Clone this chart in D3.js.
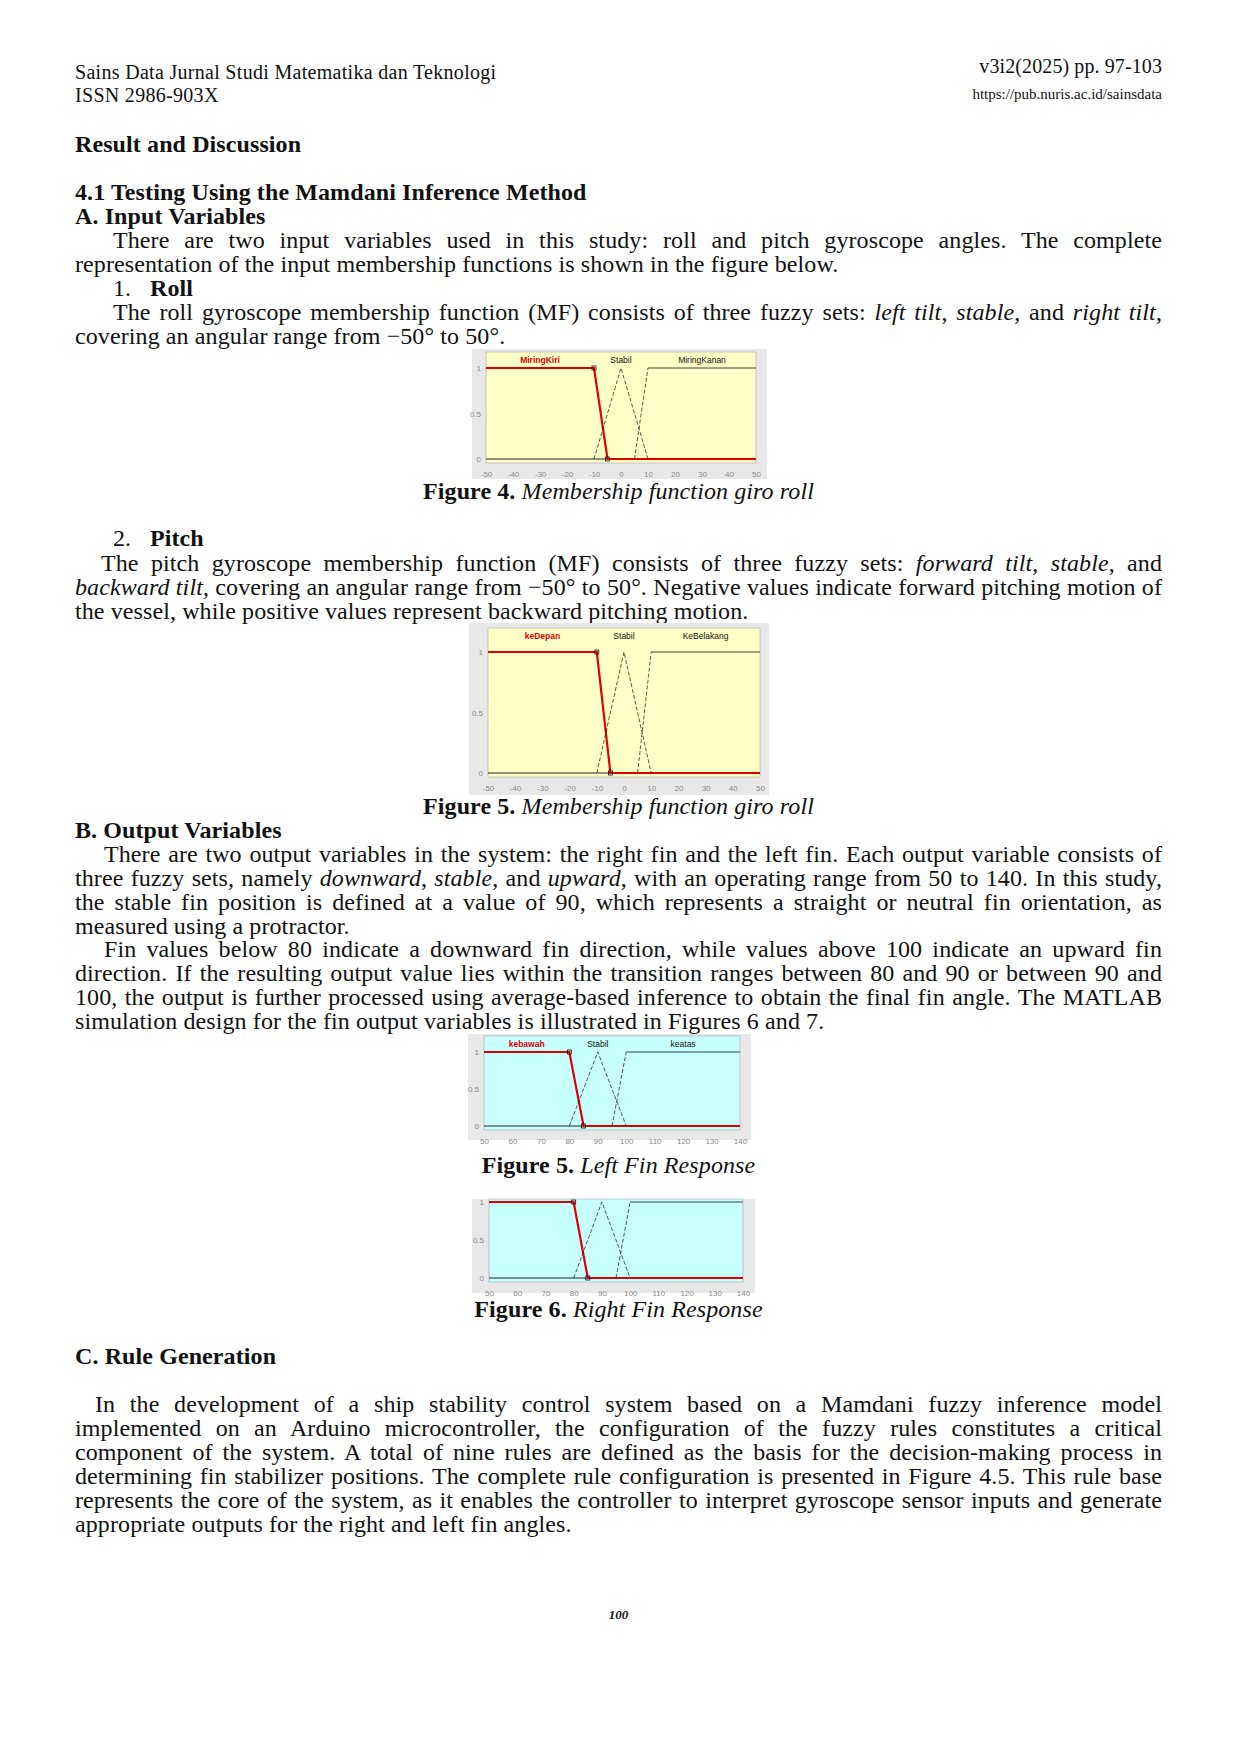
<!DOCTYPE html><html><head><meta charset="utf-8">
<script src="https://cdn.jsdelivr.net/npm/d3@7"></script>
<style>
body{margin:0;width:1240px;height:1754px;background:#fff;position:relative;font-family:"Liberation Serif",serif;color:#111}
.t{position:absolute;left:75px;width:1087px;font-size:24px;letter-spacing:0.1px;line-height:24px;text-align:justify;text-align-last:left}
.r{text-align:right}
.c{text-align:center;text-align-last:center}
b{font-weight:bold}
svg{position:absolute;left:0;top:0}
</style></head><body>
<div class="t" style="top:61px;font-size:20px;letter-spacing:0.3px;line-height:23px">Sains Data Jurnal Studi Matematika dan Teknologi<br>ISSN 2986-903X</div>
<div class="t r" style="top:54px;font-size:20px;text-align-last:right">v3i2(2025) pp. 97-103</div>
<div class="t r" style="top:82px;font-size:15px;letter-spacing:0;text-align-last:right">https://pub.nuris.ac.id/sainsdata</div>
<div class="t" style="top:132px"><b>Result and Discussion</b></div>
<div class="t" style="top:180px"><b>4.1 Testing Using the Mamdani Inference Method</b><br><b>A. Input Variables</b></div>
<div class="t" style="top:228px;text-indent:38px">There are two input variables used in this study: roll and pitch gyroscope angles. The complete representation of the input membership functions is shown in the figure below.</div>
<div class="t" style="top:276px;left:113px;width:200px">1.</div>
<div class="t" style="top:276px;left:150px;width:200px"><b>Roll</b></div>
<div class="t" style="top:300px;text-indent:38px">The roll gyroscope membership function (MF) consists of three fuzzy sets: <i>left tilt</i>, <i>stable</i>, and <i>right tilt</i>, covering an angular range from −50° to 50°.</div>
<div class="t c" style="top:479px"><b>Figure 4.</b> <i>Membership function giro roll</i></div>
<div class="t" style="top:526px;left:113px;width:200px">2.</div>
<div class="t" style="top:526px;left:150px;width:200px"><b>Pitch</b></div>
<div class="t" style="top:551px;text-indent:26px">The pitch gyroscope membership function (MF) consists of three fuzzy sets: <i>forward tilt</i>, <i>stable</i>, and <i>backward tilt</i>, covering an angular range from −50° to 50°. Negative values indicate forward pitching motion of the vessel, while positive values represent backward pitching motion.</div>
<div class="t c" style="top:794px"><b>Figure 5.</b> <i>Membership function giro roll</i></div>
<div class="t" style="top:818px"><b>B. Output Variables</b></div>
<div class="t" style="top:842px;text-indent:29px">There are two output variables in the system: the right fin and the left fin. Each output variable consists of three fuzzy sets, namely <i>downward</i>, <i>stable</i>, and <i>upward</i>, with an operating range from 50 to 140. In this study, the stable fin position is defined at a value of 90, which represents a straight or neutral fin orientation, as measured using a protractor.</div>
<div class="t" style="top:937px;text-indent:29px">Fin values below 80 indicate a downward fin direction, while values above 100 indicate an upward fin direction. If the resulting output value lies within the transition ranges between 80 and 90 or between 90 and 100, the output is further processed using average-based inference to obtain the final fin angle. The MATLAB simulation design for the fin output variables is illustrated in Figures 6 and 7.</div>
<div class="t c" style="top:1153px"><b>Figure 5.</b> <i>Left Fin Response</i></div>
<div class="t c" style="top:1297px"><b>Figure 6.</b> <i>Right Fin Response</i></div>
<div class="t" style="top:1344px"><b>C. Rule Generation</b></div>
<div class="t" style="top:1392px;text-indent:20px">In the development of a ship stability control system based on a Mamdani fuzzy inference model implemented on an Arduino microcontroller, the configuration of the fuzzy rules constitutes a critical component of the system. A total of nine rules are defined as the basis for the decision-making process in determining fin stabilizer positions. The complete rule configuration is presented in Figure 4.5. This rule base represents the core of the system, as it enables the controller to interpret gyroscope sensor inputs and generate appropriate outputs for the right and left fin angles.</div>
<div class="t c" style="top:1603px;font-size:13px;letter-spacing:0"><b><i>100</i></b></div>
<svg id="s" width="1240" height="1754"></svg>
<script>
// data
const rollNames=["MiringKiri","Stabil","MiringKanan"];
const rollParams=[[-50,-50,-10,-5],[-10,0,0,10],[5,10,50,50]];
const pitchNames=["keDepan","Stabil","KeBelakang"];
const pitchParams=[[-50,-50,-10,-5],[-10,0,0,10],[5,10,50,50]];
const finLNames=["kebawah","Stabil","keatas"];
const finRNames=["","",""];
const finParams=[[50,50,80,85],[80,90,90,100],[95,100,140,140]];
const angTicks=[-50,-40,-30,-20,-10,0,10,20,30,40,50];
const finTicks=[50,60,70,80,90,100,110,120,130,140];
const yTicks=[0,0.5,1];

const svg=d3.select("#s");
function chart(o){
  const g=svg.append("g");
  g.append("rect").attr("x",o.ox).attr("y",o.oy).attr("width",o.ow).attr("height",o.oh).attr("fill","#e8e8e8");
  const x=d3.scaleLinear().domain(o.dom).range([o.l,o.r]);
  const y=d3.scaleLinear().domain([0,1]).range([o.y0,o.y1]);
  g.append("rect").attr("x",o.l).attr("y",o.top).attr("width",o.r-o.l).attr("height",o.y0+4-o.top).attr("fill",o.bg).attr("stroke","#999").attr("stroke-width",0.5);
  const ax=d3.axisBottom(x).tickValues(o.ticks).tickSize(0).tickPadding(8).tickFormat(d=>String(d));
  const axg=g.append("g").attr("transform",`translate(0,${o.y0+4})`).call(ax);
  axg.select(".domain").remove();
  axg.selectAll("text").attr("fill","#888").attr("font-size",8).attr("font-family","Liberation Sans");
  const ay=d3.axisLeft(y).tickValues(yTicks).tickSize(0).tickPadding(5).tickFormat(d=>String(d));
  const ayg=g.append("g").attr("transform",`translate(${o.l},0)`).call(ay);
  ayg.select(".domain").remove();
  ayg.selectAll("text").attr("fill","#888").attr("font-size",8).attr("font-family","Liberation Sans");
  const line=d3.line().x(d=>x(d[0])).y(d=>y(d[1]));
  g.append("line").attr("x1",x(o.dom[0])).attr("x2",x(o.dom[1])).attr("y1",y(0)).attr("y2",y(0)).attr("stroke","#222").attr("stroke-width",1);
  o.params.forEach((p,i)=>{
    if(i===0){
      const pts=[[p[1],1],[p[2],1],[p[3],0],[o.dom[1],0]];
      g.append("path").attr("d",line(pts)).attr("fill","none").attr("stroke","#e00000").attr("stroke-width",2.2);
      [[p[2],1],[p[3],0]].forEach(q=>g.append("rect").attr("x",x(q[0])-2).attr("y",y(q[1])-2).attr("width",4).attr("height",4).attr("fill","none").attr("stroke","#111").attr("stroke-width",0.8));
    } else if(p[3]===o.dom[1]){
      g.append("path").attr("d",line([[p[0],0],[p[1],1]])).attr("fill","none").attr("stroke","#111").attr("stroke-width",0.7).attr("stroke-dasharray","4,2");
      g.append("path").attr("d",line([[p[1],1],[p[3],1]])).attr("fill","none").attr("stroke","#111").attr("stroke-width",0.8);
    } else {
      g.append("path").attr("d",line([[p[0],0],[p[1],1],[p[3],0]])).attr("fill","none").attr("stroke","#111").attr("stroke-width",0.7).attr("stroke-dasharray","4,2");
    }
  });
  o.names.forEach((n,i)=>{
    if(!n) return;
    const p=o.params[i];
    g.append("text").attr("x",x((p[1]+p[2])/2)).attr("y",o.top+11).attr("text-anchor","middle").attr("font-size",8.5).attr("font-family","Liberation Sans").attr("fill",i===0?"#e00000":"#111").attr("font-weight",i===0?"bold":"normal").text(n);
  });
}
chart({ox:472,oy:349,ow:295,oh:130,l:486,r:756,top:352,y1:368,y0:459,dom:[-50,50],ticks:angTicks,params:rollParams,names:rollNames,bg:"#ffffc8"});
chart({ox:469,oy:623,ow:300,oh:172,l:488,r:760,top:628,y1:652,y0:773,dom:[-50,50],ticks:angTicks,params:pitchParams,names:pitchNames,bg:"#ffffc8"});
chart({ox:468,oy:1034,ow:283,oh:106,l:484,r:740,top:1036,y1:1052,y0:1126,dom:[50,140],ticks:finTicks,params:finParams,names:finLNames,bg:"#c8ffff"});
chart({ox:472,oy:1199,ow:283,oh:94,l:489,r:743,top:1199,y1:1202,y0:1278,dom:[50,140],ticks:finTicks,params:finParams,names:finRNames,bg:"#c8ffff"});
</script></body></html>
